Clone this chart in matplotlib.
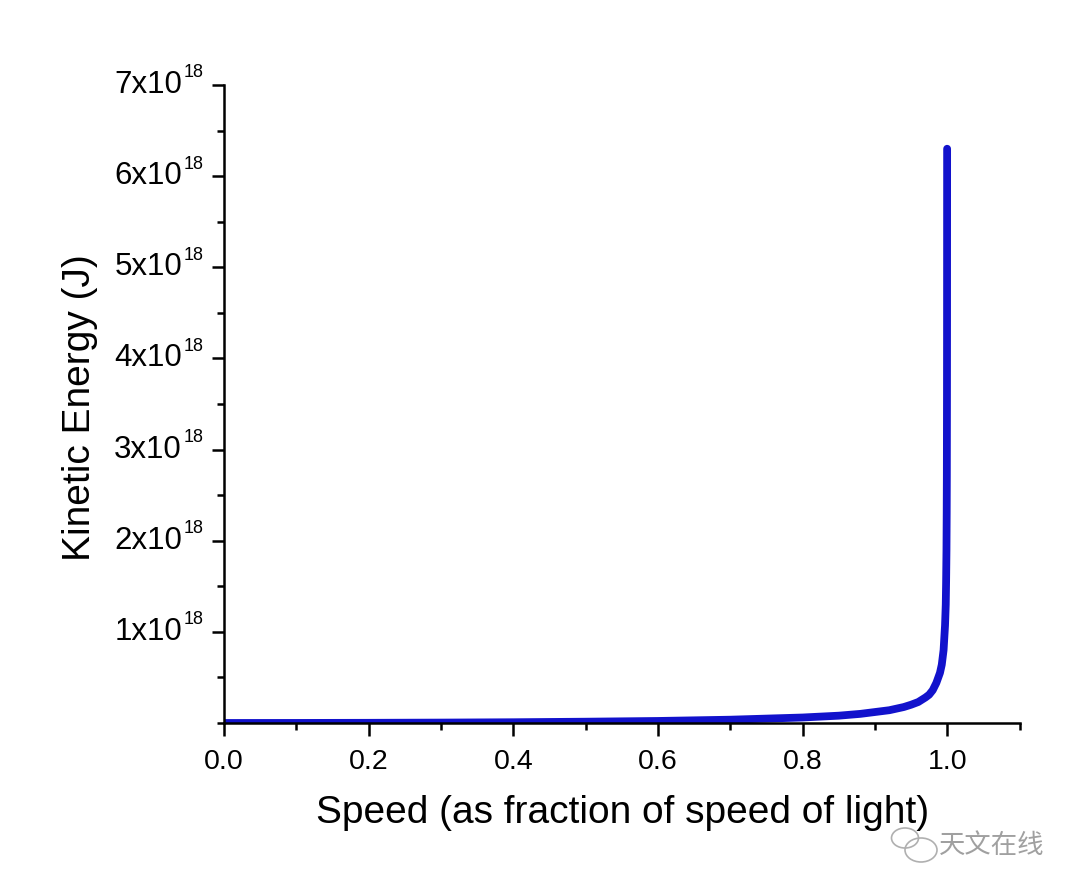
import numpy as np
import matplotlib
matplotlib.use("Agg")
import matplotlib.pyplot as plt
from matplotlib.ticker import MultipleLocator, FixedLocator
from matplotlib.patches import Ellipse

plt.rcParams['font.family'] = ['Liberation Sans', 'DejaVu Sans']

# speed (fraction of c) and kinetic energy (J)
speed = [0.0, 0.1, 0.2, 0.3, 0.4, 0.5, 0.6, 0.7, 0.8, 0.85, 0.88, 0.9, 0.92,
         0.94, 0.95, 0.96, 0.97, 0.975, 0.98, 0.985, 0.99, 0.9925, 0.995,
         0.997, 0.998, 0.9985, 0.999, 0.9993, 0.9995, 0.9997, 0.9998, 0.9999]
energy = [0.0, 4.5e14, 1.8e15, 4.2e15, 8e15, 1.4e16, 2.2e16, 3.6e16, 6e16,
          8e16, 1e17, 1.2e17, 1.4e17, 1.75e17, 2e17, 2.3e17, 2.8e17, 3.1e17,
          3.6e17, 4.4e17, 5.5e17, 6.4e17, 8e17, 1.07e18, 1.3e18, 1.55e18,
          1.9e18, 2.3e18, 2.7e18, 3.6e18, 4.4e18, 6.3e18]

ytick_vals = [1e18, 2e18, 3e18, 4e18, 5e18, 6e18, 7e18]
ytick_mant = ['%dx10' % k for k in range(1, 8)]
xtick_vals = [0, 0.2, 0.4, 0.6, 0.8, 1.0]
xtick_labels = ['0.0', '0.2', '0.4', '0.6', '0.8', '1.0']

fig = plt.figure(figsize=(10.8, 8.94), dpi=100)
ax = fig.add_axes([0.2074, 0.1913, 0.7366, 0.7137])

ax.plot(speed, energy, color='#1212cc', lw=5.6, solid_capstyle='round',
        solid_joinstyle='round')

ax.set_xlim(0, 1.1)
ax.set_ylim(0, 7e18)
ax.xaxis.set_major_locator(FixedLocator(xtick_vals))
ax.xaxis.set_minor_locator(MultipleLocator(0.1))
ax.set_xticklabels(xtick_labels)
ax.yaxis.set_major_locator(FixedLocator(ytick_vals))
ax.yaxis.set_minor_locator(MultipleLocator(0.5e18))
ax.set_yticklabels([])

for s in ['top', 'right']:
    ax.spines[s].set_visible(False)
for s in ['left', 'bottom']:
    ax.spines[s].set_linewidth(1.8)
ax.tick_params(which='major', length=9, width=1.8, direction='out')
ax.tick_params(which='minor', length=5, width=1.8, direction='out')
ax.tick_params(axis='x', labelsize=20.5, pad=10)

# y tick labels: "Nx10" with a small "18" exponent
ytr = ax.get_yaxis_transform()
for val, mant in zip(ytick_vals, ytick_mant):
    ax.annotate(mant, xy=(0, val), xycoords=ytr, xytext=(-42, 0),
                textcoords='offset pixels', ha='right', va='center',
                fontsize=22.5, annotation_clip=False)
    ax.annotate('18', xy=(0, val), xycoords=ytr, xytext=(-40, 12),
                textcoords='offset pixels', ha='left', va='center',
                fontsize=13, annotation_clip=False)

ax.set_xlabel('Speed (as fraction of speed of light)', fontsize=28)
ax.xaxis.set_label_coords(0.5006, -0.113)
ax.set_ylabel('Kinetic Energy (J)', fontsize=28)
ax.yaxis.set_label_coords(-0.158, 0.495)

# watermark
for cx, cy, w, h in [(905, 838, 0.27, 0.2), (921, 850, 0.32, 0.24)]:
    fig.patches.append(Ellipse((cx / 100, (894 - cy) / 100), w, h,
                               transform=fig.dpi_scale_trans, fill=False,
                               edgecolor='#b0b0b0', lw=1.2))
fig.text(0.869, 0.054, '天文在线', fontsize=19, color='#a0a0a0',
         family=['Noto Sans CJK SC', 'DejaVu Sans'], ha='left', va='center')

fig.savefig('out.png', dpi=100)
